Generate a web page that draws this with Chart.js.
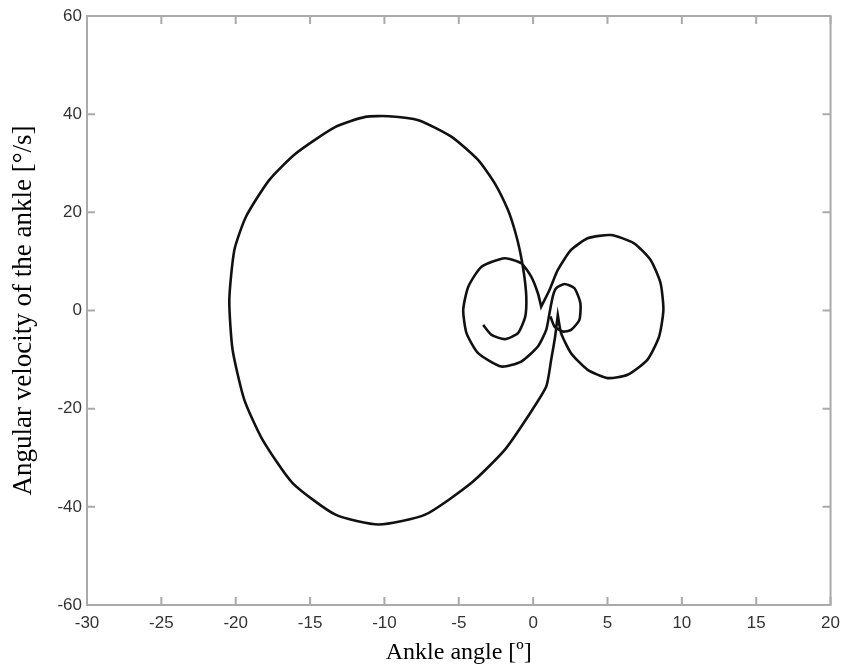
<!DOCTYPE html>
<html>
<head>
<meta charset="utf-8">
<script src="https://cdn.jsdelivr.net/npm/chart.js@4.4.1/dist/chart.umd.min.js"></script>
<style>
  html, body { margin: 0; padding: 0; background: #fff; }
  #wrap { width: 848px; height: 670px; }
</style>
</head>
<body>
<div id="wrap"><canvas id="phase"></canvas></div>
<script>
// ankle phase portrait
var ankleAngle = [
  -3.36, -2.80, -1.90, -1.02, -0.53, -0.46, -0.62, -0.90, -1.24, -1.69,
  -2.58, -3.69, -5.48, -7.71, -9.72, -11.28, -13.29, -15.96, -17.75, -19.31,
  -20.09, -20.43, -20.21, -19.42, -18.20, -16.19, -13.29, -10.39, -7.26, -4.14,
  -1.91, -0.35, 0.88, 1.21, 1.48, 1.66, 1.66,
  1.88, 2.55, 3.67, 5.01, 6.35, 7.68, 8.47, 8.76, 8.57, 7.90,
  6.79, 5.23, 3.67, 2.55, 1.66, 1.10, 0.54, 0.54,
  0.32, -0.13, -0.80, -1.91, -3.47, -4.36, -4.70, -4.48, -3.70, -2.14,
  -0.80, 0.32, 0.88, 1.10, 1.32,
  1.55, 2.11, 2.78, 3.18, 3.11, 2.55, 2.00, 1.44, 1.17
];
var angVelocity = [
  -2.93, -4.96, -5.84, -4.62, -1.24, 2.83, 7.59, 12.33, 16.40, 20.47,
  25.90, 30.64, 35.38, 38.78, 39.59, 39.45, 37.42, 32.00, 26.57, 19.10,
  12.33, 2.16, -8.00, -18.20, -26.30, -35.10, -41.60, -43.60, -41.60, -35.10,
  -28.40, -21.60, -15.50, -10.10, -5.30, -0.90, -0.90,
  -4.62, -8.69, -12.09, -13.77, -13.10, -10.05, -5.31, 0.12, 5.55, 10.30,
  13.69, 15.38, 14.71, 12.33, 8.26, 4.19, 0.79, 0.79,
  3.52, 6.90, 9.62, 10.64, 8.93, 4.86, 0.12, -4.62, -8.69, -11.41,
  -10.40, -7.34, -3.95, -0.55, 2.83,
  4.54, 5.41, 4.54, 1.49, -1.91, -3.95, -4.29, -3.28, -1.24
];
var xTicks = [-30, -25, -20, -15, -10, -5, 0, 5, 10, 15, 20];
var yTicks = [-60, -40, -20, 0, 20, 40, 60];

var points = [];
for (var i in ankleAngle) {
  points.push({x: ankleAngle[i], y: angVelocity[i]});
}

// matlab style box with ticks pointing inward
var frame = {
  id: 'frame',
  beforeDatasetsDraw: function (chart) {
    var ctx = chart.ctx, a = chart.chartArea;
    var sx = chart.scales.x, sy = chart.scales.y;
    ctx.save();
    ctx.strokeStyle = '#aaaaaa';
    ctx.lineWidth = 2;
    ctx.beginPath();
    xTicks.forEach(function (v) {
      var px = sx.getPixelForValue(v);
      ctx.moveTo(px, a.bottom); ctx.lineTo(px, a.bottom - 8);
      ctx.moveTo(px, a.top); ctx.lineTo(px, a.top + 8);
    });
    yTicks.forEach(function (v) {
      var py = sy.getPixelForValue(v);
      ctx.moveTo(a.left, py); ctx.lineTo(a.left + 8, py);
      ctx.moveTo(a.right, py); ctx.lineTo(a.right - 8, py);
    });
    ctx.stroke();
    ctx.strokeRect(a.left, a.top, a.right - a.left, a.bottom - a.top);
    ctx.restore();
  }
};

new Chart(document.getElementById('phase'), {
  type: 'scatter',
  data: {
    datasets: [{
      data: points,
      showLine: true,
      borderColor: '#111',
      borderWidth: 2.6,
      pointRadius: 0,
      tension: 0.2,
      fill: false
    }]
  },
  options: {
    responsive: true,
    maintainAspectRatio: false,
    animation: false,
    layout: { padding: { top: 16, right: 14, left: 0, bottom: 0 } },
    plugins: { legend: { display: false }, tooltip: { enabled: false } },
    scales: {
      x: {
        type: 'linear',
        min: -30, max: 20,
        afterBuildTicks: function (s) { s.ticks = xTicks.map(function (v) { return {value: v}; }); },
        afterFit: function (s) { s.height = 65; },
        grid: { display: false, drawTicks: false },
        border: { display: false },
        ticks: { padding: 8, color: '#333', font: { family: 'Liberation Sans', size: 17 }, maxRotation: 0 },
        title: {
          display: true,
          text: 'Ankle angle [º]',
          color: '#000',
          font: { family: 'Liberation Serif', size: 24 },
          padding: { top: 0, bottom: 3 }
        }
      },
      y: {
        type: 'linear',
        min: -60, max: 60,
        afterBuildTicks: function (s) { s.ticks = yTicks.map(function (v) { return {value: v}; }); },
        afterFit: function (s) { s.width = 87; },
        grid: { display: false, drawTicks: false },
        border: { display: false },
        ticks: { padding: 5, color: '#333', font: { family: 'Liberation Sans', size: 17 } },
        title: {
          display: true,
          text: 'Angular velocity of the ankle [°/s]',
          color: '#000',
          font: { family: 'Liberation Serif', size: 27 },
          padding: { top: 8, bottom: 0 }
        }
      }
    }
  },
  plugins: [frame]
});
</script>
</body>
</html>
